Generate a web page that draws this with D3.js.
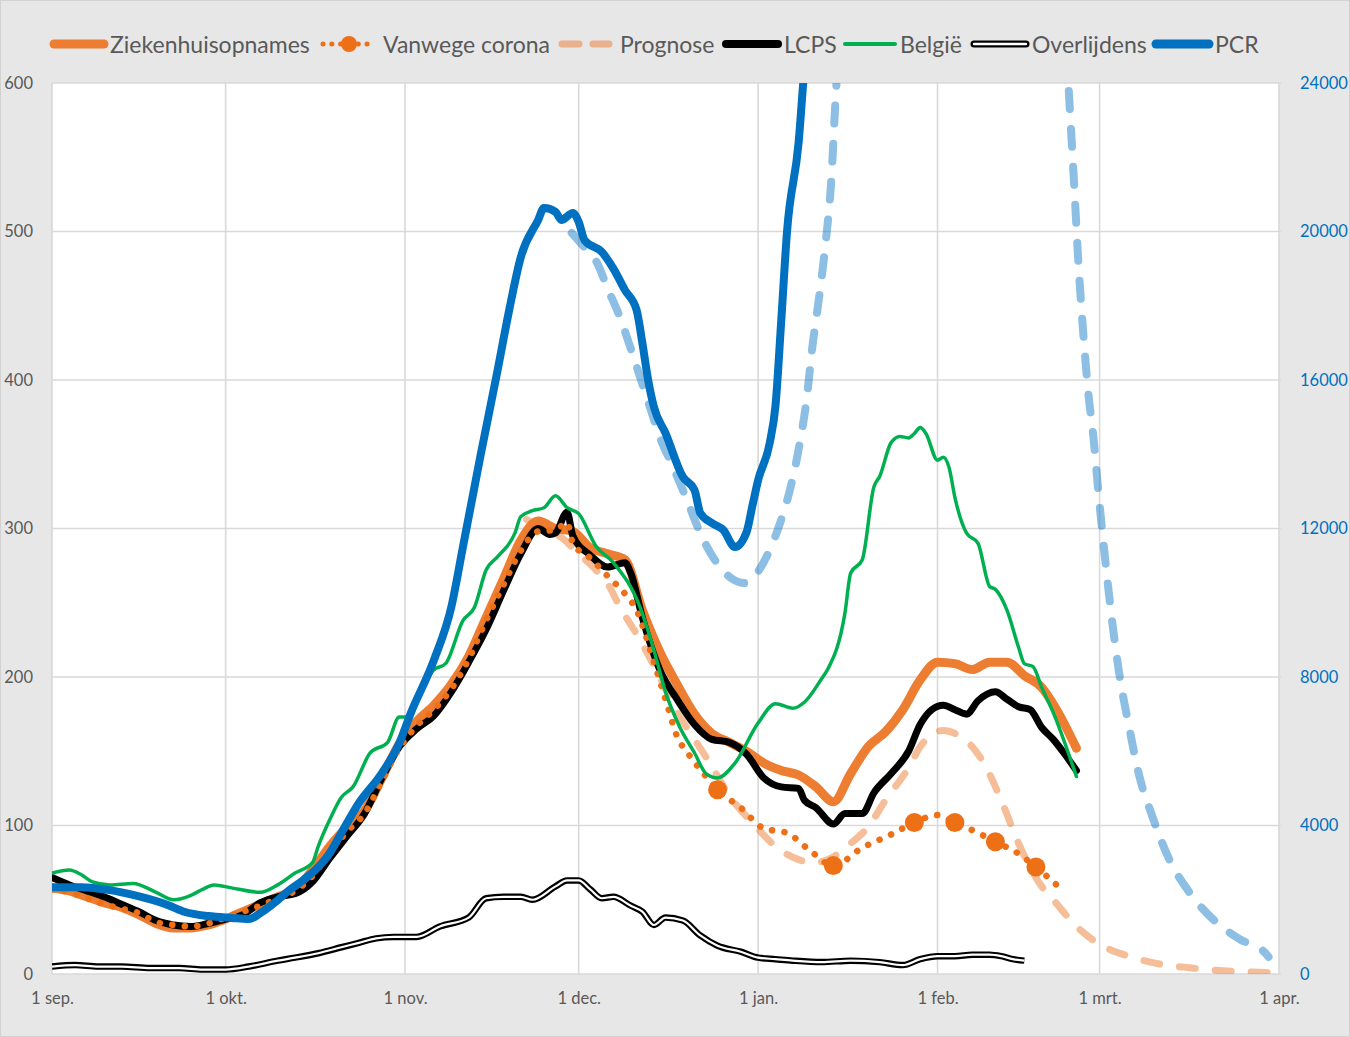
<!DOCTYPE html>
<html>
<head>
<meta charset="utf-8">
<script src="https://cdn.jsdelivr.net/npm/d3@7"></script>
<style>
  body { margin: 0; background: #e7e7e7; }
  svg { display: block; font-family: Lato, 'Open Sans', sans-serif; }
</style>
</head>
<body>
<svg id="chart" width="1350" height="1037"></svg>
<script>
// days counted from 1 sep. (2021)
const monthLabels = ['1 sep.', '1 okt.', '1 nov.', '1 dec.', '1 jan.', '1 feb.', '1 mrt.', '1 apr.'];
const leftTicks = [0, 100, 200, 300, 400, 500, 600];
const rightTicks = [0, 4000, 8000, 12000, 16000, 20000, 24000];

const seriesNames = ['Ziekenhuisopnames', 'Vanwege corona', 'Prognose', 'LCPS', 'België', 'Overlijdens', 'PCR'];

const ziekenhuis = [[0,58],[3,56],[6,52],[9,48],[12,45],[15,40],[18,34],[21,31],[24,31],[27,33],[30,37],[33,42],[36,47],[39,52],[42,57],[45,70],[48,86],[51,99],[54,110],[57,132],[60,155],[63,170],[66,181],[69,195],[72,214],[75,240],[78,266],[81,292],[84,305],[87,300],[90,298],[93,287],[96,283],[99,279],[102,245],[105,217],[108,195],[111,175],[114,162],[117,156],[120,150],[123,142],[126,137],[129,134],[132,126],[135,116],[138,135],[141,153],[144,163],[147,178],[150,198],[153,210],[156,209],[159,205],[162,210],[165,210],[168,201],[171,193],[174,175],[177,152]];

const vanwegeCorona = [[0,57],[3,55],[6,51],[9,47],[12,44],[15,41],[18,35],[21,33],[24,32],[27,34],[30,38],[33,42],[36,46],[39,51],[42,56],[45,66],[48,82],[51,96],[54,108],[57,130],[60,152],[63,167],[66,178],[69,192],[72,212],[75,238],[78,262],[81,285],[84,298],[87,299],[89,304],[90,290],[93,280],[96,268],[99,256],[101,245],[104,210],[106,185],[108,160],[110,148],[113,133],[115,124],[119,112],[123,98],[127,95],[131,83],[135,73],[140,85],[145,94],[149,102],[153,107],[156,102],[160,95],[163,89],[167,81],[170,72],[175,55]];
const vanwegeMarkerDays = [115, 135, 149, 156, 163, 170];

const prognose = [[82,306],[85,300],[88,294],[91,283],[94,272],[96,263],[98,248],[101.6,225],[105,200],[108.5,173],[110,164],[113,146],[118,115],[121,102],[125,86],[129,77],[131.5,75],[134,77],[138,88],[141,99],[144,117],[148,139],[150,153],[154,164],[156,162],[159,153],[161,142],[164,117],[167,88],[171,59],[173,50],[177,32],[181,20],[186,12],[191,7],[197,4],[203,2],[210,1]];

const lcps = [[0,65],[3,60],[6,56],[9,52],[12,47],[15,42],[18,36],[21,33],[24,32],[27,34],[30,37],[33,40],[36,48],[39,52],[42,54],[45,62],[48,78],[51,93],[54,108],[57,132],[60,153],[63,165],[66,174],[69,190],[72,210],[75,232],[78,258],[81,283],[84,300],[86,296],[87,297],[89,311],[90,295],[93,282],[96,274],[99,277],[100,270],[102,240],[105,205],[108,185],[111,168],[114,158],[117,156],[120,148],[123,132],[126,126],[129,125],[130,117],[132,112],[135,101],[137,108],[140,108],[142,122],[145,135],[148,150],[150,168],[152,178],[154,181],[156,178],[158,175],[160,184],[163,190],[165,185],[167,180],[169,178],[171,166],[173,158],[175,148],[177,137]];

const belgie = [[0,68],[3,70],[5,67],[7,62],[10,60],[14,61],[18,55],[21,50],[24,53],[26,57],[28,60],[31,58],[36,55],[39,60],[42,68],[45,75],[46,86],[48,104],[50,119],[52,126],[55,149],[58,156],[60,173],[61,173],[66,205],[68,209],[71,238],[73,247],[75,272],[77,281],[80,297],[81,308],[83,312],[85,314],[87,322],[89,314],[91,310],[94,288],[97,277],[101.6,247],[104,218],[106,190],[108.5,166],[111,149],[113,135],[115,132],[118,142],[122,169],[125,182],[128,179],[130,183],[133,199],[134,205],[137,243],[138,270],[140,279],[142,328],[143,335],[145,358],[146.5,362],[148,361],[149,364],[150,368],[151,364],[153,346],[154,348],[155,341],[156,321],[158,297],[160,290],[162,261],[163,259],[165,245],[167,220],[168,209],[169.5,207],[171,193],[173,176],[177,133]];

const overlijdens = [[0,5],[4,6],[8,5],[12,5],[17,4],[22,4],[26,3],[30,3],[34,5],[39,9],[42,11],[46,14],[50,18],[53,21],[56,24],[59,25],[63,25],[67,32],[72,38],[75,51],[78,52],[81,52],[83,50],[87,59],[89,63],[91,63],[93,57],[95,51],[97,52],[100,46],[102,42],[104,33],[106,38],[109,36],[112,26],[115,19],[119,15],[122,11],[125,10],[128,9],[133,8],[138,9],[143,8],[147,6],[150,10],[153,12],[156,12],[159,13],[162,13],[164,12],[166,10],[168,9]];

const pcr = [[0,2340],[5,2340],[10,2260],[14,2130],[20,1860],[23,1670],[27,1560],[31,1510],[34,1480],[36,1640],[39,1990],[41,2260],[43,2480],[46,2880],[48,3260],[50,3800],[53,4600],[57,5410],[60,6220],[62,7030],[66,8460],[69,9890],[71,11500],[74,13930],[77,16270],[79,17890],[81,19310],[84,20310],[85,20630],[87,20530],[88,20310],[90,20500],[91,20260],[92,19770],[95,19450],[97,19000],[99,18420],[101,17890],[102,17000],[103,16000],[104,15270],[106,14570],[109,13390],[111,13040],[112,12420],[114,12150],[116,11960],[118,11500],[120,11900],[121,12600],[122,13300],[124,14300],[125,15300],[126,17600],[127,20000],[129,22400],[130,24400],[131,26000]];

const pcrPrognose = [[89.8,19960],[92.4,19500],[94.2,19150],[95.9,18500],[98.1,17700],[99.9,16890],[101.6,16080],[103.3,15270],[105,14470],[107.3,13660],[109.7,12770],[112,11880],[114.2,11230],[117.1,10690],[119.7,10530],[121.8,10800],[124,11420],[125.8,12150],[127.5,13040],[129.2,14300],[130.4,15500],[131.3,16800],[132.5,18180],[133.7,19740],[134.6,21280],[135.5,23900],[137,27000],[145,38000],[155,45000],[165,38000],[174.5,27000],[175.7,23730],[176.6,21280],[177.3,19260],[178.1,17430],[179,15730],[180,14360],[180.9,12800],[181.8,11420],[183,9720],[184.3,8190],[186.1,6650],[188,5250],[189.9,4340],[193,3100],[196.6,2180],[200.9,1430],[205.2,940],[209.6,570],[210.2,460]];

const colors = {
    orange: '#ED7D31',
    dots: '#ED7017',
    black: '#000000',
    green: '#00B050',
    blue: '#0070C0',
    text: '#595959',
    grid: '#d9d9d9'
};

let start = new Date(2021, 8, 1);
let day = d => start.getTime() + d * 864e5;

let plot = { left: 52, right: 1279, top: 83, bottom: 974 };

let x = d3.scaleTime()
    .domain([new Date(2021, 8, 1), new Date(2022, 3, 1)])
    .range([plot.left, plot.right]);
let y = d3.scaleLinear().domain([0, 600]).range([plot.bottom, plot.top]);
let yR = d3.scaleLinear().domain([0, 24000]).range([plot.bottom, plot.top]);

let monthStarts = d3.timeMonth.range(new Date(2021, 8, 1), new Date(2022, 3, 2));

let svg = d3.select('#chart');

svg.append('rect')
    .attr('x', 0.5).attr('y', 0.5).attr('width', 1349).attr('height', 1036)
    .attr('fill', '#e7e7e7').attr('stroke', '#d2d2d2');

svg.append('rect')
    .attr('x', plot.left).attr('y', plot.top)
    .attr('width', plot.right - plot.left).attr('height', plot.bottom - plot.top)
    .attr('fill', '#ffffff');

svg.append('clipPath').attr('id', 'clip')
    .append('rect')
    .attr('x', plot.left).attr('y', plot.top)
    .attr('width', plot.right - plot.left).attr('height', plot.bottom - plot.top);

// gridlines
svg.append('g').selectAll('line')
    .data(leftTicks)
    .enter().append('line')
    .attr('x1', plot.left).attr('x2', plot.right + 2)
    .attr('y1', d => y(d)).attr('y2', d => y(d))
    .attr('stroke', colors.grid).attr('stroke-width', 1.6);

svg.append('g').selectAll('line')
    .data(monthStarts)
    .enter().append('line')
    .attr('x1', d => x(d)).attr('x2', d => x(d))
    .attr('y1', plot.top).attr('y2', plot.bottom)
    .attr('stroke', colors.grid).attr('stroke-width', 1.6);

// axes
let axisLeft = svg.append('g')
    .attr('transform', 'translate(' + plot.left + ',0)')
    .call(d3.axisLeft(y).tickValues(leftTicks).tickSize(0).tickPadding(19));
let axisRight = svg.append('g')
    .attr('transform', 'translate(' + plot.right + ',0)')
    .call(d3.axisRight(yR).tickValues(rightTicks).tickSize(0).tickPadding(21)
        .tickFormat(d3.format('d')));
let axisBottom = svg.append('g')
    .attr('transform', 'translate(0,' + plot.bottom + ')')
    .call(d3.axisBottom(x).tickValues(monthStarts).tickSize(0).tickPadding(18)
        .tickFormat((d, i) => monthLabels[i]));

[axisLeft, axisRight, axisBottom].forEach(a => {
    a.select('.domain').remove();
    a.selectAll('text').style('font-family', 'Lato, sans-serif').style('font-size', '16.5px');
});
axisLeft.selectAll('text').attr('fill', colors.text);
axisBottom.selectAll('text').attr('fill', colors.text);
axisRight.selectAll('text').attr('fill', colors.blue);

// lines
let lineL = d3.line().x(d => x(day(d[0]))).y(d => y(d[1])).curve(d3.curveMonotoneX);
let lineR = d3.line().x(d => x(day(d[0]))).y(d => yR(d[1])).curve(d3.curveMonotoneX);

let g = svg.append('g').attr('clip-path', 'url(#clip)');

g.append('path').datum(prognose)
    .attr('d', lineL).attr('fill', 'none')
    .attr('stroke', colors.orange).attr('stroke-opacity', 0.5)
    .attr('stroke-width', 7).attr('stroke-linecap', 'round')
    .attr('stroke-dasharray', '16 20');

g.append('path').datum(pcrPrognose)
    .attr('d', lineR).attr('fill', 'none')
    .attr('stroke', colors.blue).attr('stroke-opacity', 0.45)
    .attr('stroke-width', 8).attr('stroke-linecap', 'round')
    .attr('stroke-dasharray', '18 20');

g.append('path').datum(ziekenhuis)
    .attr('d', lineL).attr('fill', 'none')
    .attr('stroke', colors.orange).attr('stroke-width', 9)
    .attr('stroke-linejoin', 'round').attr('stroke-linecap', 'round');

g.append('path').datum(lcps)
    .attr('d', lineL).attr('fill', 'none')
    .attr('stroke', colors.black).attr('stroke-width', 7)
    .attr('stroke-linejoin', 'round').attr('stroke-linecap', 'round');

g.append('path').datum(vanwegeCorona)
    .attr('d', lineL).attr('fill', 'none')
    .attr('stroke', colors.dots).attr('stroke-width', 6.5)
    .attr('stroke-linecap', 'round')
    .attr('stroke-dasharray', '0.1 12.5');

g.selectAll('circle.marker')
    .data(vanwegeCorona.filter(d => vanwegeMarkerDays.includes(d[0])))
    .enter().append('circle')
    .attr('class', 'marker')
    .attr('cx', d => x(day(d[0]))).attr('cy', d => y(d[1]))
    .attr('r', 9.5).attr('fill', colors.dots);

g.append('path').datum(belgie)
    .attr('d', lineL).attr('fill', 'none')
    .attr('stroke', colors.green).attr('stroke-width', 3.5)
    .attr('stroke-linejoin', 'round').attr('stroke-linecap', 'round');

g.append('path').datum(overlijdens)
    .attr('d', lineL).attr('fill', 'none')
    .attr('stroke', colors.black).attr('stroke-width', 6.5)
    .attr('stroke-linejoin', 'round');
g.append('path').datum(overlijdens)
    .attr('d', lineL).attr('fill', 'none')
    .attr('stroke', '#ffffff').attr('stroke-width', 2.2)
    .attr('stroke-linejoin', 'round');

g.append('path').datum(pcr)
    .attr('d', lineR).attr('fill', 'none')
    .attr('stroke', colors.blue).attr('stroke-width', 8)
    .attr('stroke-linejoin', 'round').attr('stroke-linecap', 'round');

// legend
let legendY = 44;
let legendX = [50, 320, 558, 722, 842, 970, 1152];
let legendW = [58, 58, 55, 60, 56, 60, 61];
let legendTextX = [110, 383, 620, 784, 900, 1032, 1215];
let legend = svg.append('g');

legend.append('line')
    .attr('x1', legendX[0] + 4).attr('x2', legendX[0] + legendW[0] - 4)
    .attr('y1', legendY).attr('y2', legendY)
    .attr('stroke', colors.orange).attr('stroke-width', 9).attr('stroke-linecap', 'round');

legend.append('line')
    .attr('x1', legendX[1] + 3).attr('x2', legendX[1] + legendW[1] - 3)
    .attr('y1', legendY).attr('y2', legendY)
    .attr('stroke', colors.dots).attr('stroke-width', 5).attr('stroke-linecap', 'round')
    .attr('stroke-dasharray', '0.1 8.7');
legend.append('circle')
    .attr('cx', legendX[1] + legendW[1] / 2).attr('cy', legendY).attr('r', 8)
    .attr('fill', colors.dots);

legend.append('line')
    .attr('x1', legendX[2] + 4).attr('x2', legendX[2] + legendW[2] - 4)
    .attr('y1', legendY).attr('y2', legendY)
    .attr('stroke', colors.orange).attr('stroke-opacity', 0.5)
    .attr('stroke-width', 7).attr('stroke-linecap', 'round')
    .attr('stroke-dasharray', '17 14');

legend.append('line')
    .attr('x1', legendX[3] + 4).attr('x2', legendX[3] + legendW[3] - 4)
    .attr('y1', legendY).attr('y2', legendY)
    .attr('stroke', colors.black).attr('stroke-width', 8).attr('stroke-linecap', 'round');

legend.append('line')
    .attr('x1', legendX[4] + 3).attr('x2', legendX[4] + legendW[4] - 3)
    .attr('y1', legendY).attr('y2', legendY)
    .attr('stroke', colors.green).attr('stroke-width', 4).attr('stroke-linecap', 'round');

legend.append('line')
    .attr('x1', legendX[5] + 4).attr('x2', legendX[5] + legendW[5] - 4)
    .attr('y1', legendY).attr('y2', legendY)
    .attr('stroke', colors.black).attr('stroke-width', 7).attr('stroke-linecap', 'round');
legend.append('line')
    .attr('x1', legendX[5] + 4).attr('x2', legendX[5] + legendW[5] - 4)
    .attr('y1', legendY).attr('y2', legendY)
    .attr('stroke', '#ffffff').attr('stroke-width', 2.4).attr('stroke-linecap', 'round');

legend.append('line')
    .attr('x1', legendX[6] + 4).attr('x2', legendX[6] + legendW[6] - 4)
    .attr('y1', legendY).attr('y2', legendY)
    .attr('stroke', colors.blue).attr('stroke-width', 9).attr('stroke-linecap', 'round');

legend.selectAll('text')
    .data(seriesNames)
    .enter().append('text')
    .attr('x', (d, i) => legendTextX[i])
    .attr('y', legendY)
    .attr('dominant-baseline', 'central')
    .attr('fill', colors.text)
    .style('font-size', '23px')
    .text(d => d);
</script>
</body>
</html>
